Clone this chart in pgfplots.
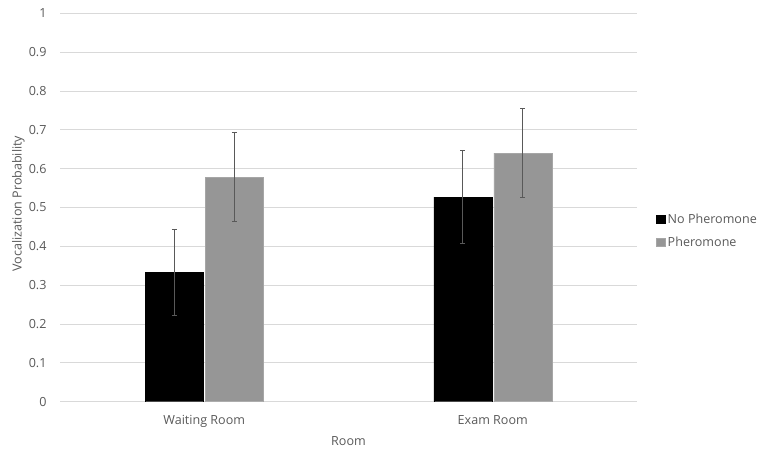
\documentclass[border=0pt]{standalone}
\usepackage{fontspec}
\setmainfont{Open Sans}
\usepackage{pgfplots}
\pgfplotsset{compat=1.18}
\definecolor{gridc}{HTML}{D9D9D9}
\definecolor{txt}{HTML}{595959}
\definecolor{pher}{HTML}{969696}
\definecolor{pheredge}{HTML}{A6A6A6}
\definecolor{errc}{HTML}{595959}
\newcommand{\lf}{\fontsize{12.6}{14.5}\selectfont}
\begin{document}
\begin{tikzpicture}
\path[use as bounding box] (0,0) rectangle (765bp,449bp);
\begin{axis}[
  at={(60bp,47.3bp)}, anchor=south west,
  scale only axis, width=577bp, height=388.4bp,
  xmin=-0.5, xmax=1.5, ymin=0, ymax=1,
  ytick={0,0.1,0.2,0.3,0.4,0.5,0.6,0.7,0.8,0.9,1},
  xtick={0,1}, xticklabels={Waiting Room, Exam Room},
  ymajorgrids, grid style={gridc, line width=0.9bp},
  axis line style={draw=none},
  major tick length=0pt,
  /pgf/number format/assume math mode=true,
  ticklabel style={font=\lf, text=txt},
  yticklabel style={anchor=east, inner xsep=0pt, xshift=-13.3bp},
  xticklabel style={anchor=base, yshift=-22.3bp},
  label style={font=\lf, text=txt},
  xlabel={Room},
  ylabel={Vocalization Probability},
  xlabel style={at={(axis description cs:0.5,0)}, anchor=base, yshift=-43.3bp},
  ylabel style={at={(rel axis cs:-0.0723,0.51)}, anchor=center},
  ybar, bar width=58bp,
  legend style={at={(rel axis cs:1.028,0.44)}, anchor=west, draw=none, fill=none,
    font=\lf, text=txt, row sep=8bp,
    /tikz/every even column/.append style={column sep=2bp}},
  legend image code/.code={\fill[#1] (0bp,-4bp) rectangle (9bp,4bp);},
  legend cell align=left,
  error bars/y dir=both, error bars/y explicit,
  error bars/error bar style={errc, line width=1bp},
  error bars/error mark options={errc, rotate=90, mark size=2.4bp, line width=1bp},
]
\addplot[fill=black, draw=black] coordinates {
  (0,0.333) +- (0,0.110)
  (1,0.527) +- (0,0.119)
};
\addlegendentry{No Pheromone}
\addplot[fill=pher, draw=pheredge] coordinates {
  (0,0.578) +- (0,0.115)
  (1,0.640) +- (0,0.114)
};
\addlegendentry{Pheromone}
\end{axis}
\end{tikzpicture}
\end{document}
